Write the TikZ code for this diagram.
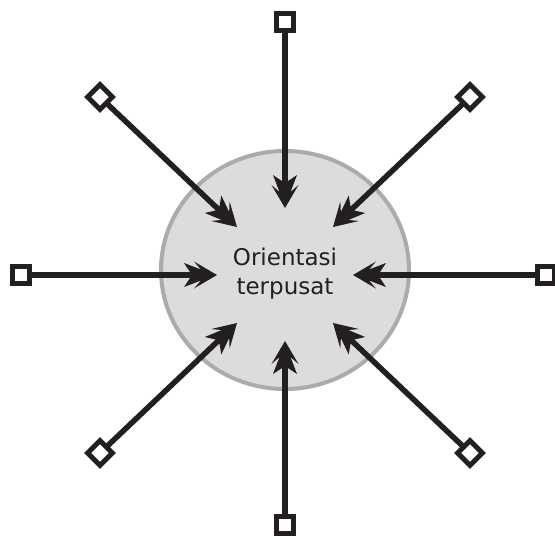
\documentclass[tikz,border=0pt]{standalone}
\usepackage{fontspec}
\newfontfamily\labelfont{DejaVu Sans}
\definecolor{ink}{HTML}{231F20}
\definecolor{discfill}{HTML}{DCDCDC}
\definecolor{discline}{HTML}{ABABAB}
\tikzset{
  barb/.pic={\fill[ink] (0,0) -- (-23,13.5) -- (-16,5.5) -- (-33,12) -- (-27,3)
     -- (-27,-3) -- (-33,-12) -- (-16,-5.5) -- (-23,-13.5) -- cycle;},
  sqbox/.style={draw=ink, fill=white, line width=5pt, minimum size=17.5pt, inner sep=0pt, outer sep=0pt},
  dmbox/.style={sqbox, rotate=45},
  spoke/.style={draw=ink, line width=5.5pt, shorten >=20pt},
  headmark/.style={pos=1, sloped, allow upside down},
}
\begin{document}
\begin{tikzpicture}[x=1pt, y=-1pt]
\useasboundingbox (0,0) rectangle (555,536);
\fill[white] (0,0) rectangle (555,536);
\draw[draw=discline, fill=discfill, line width=4pt] (285,270) ellipse [x radius=124, y radius=119];
\node[text=ink, align=center, font=\labelfont\fontsize{23}{29}\selectfont] (lbl) at (285,274) {Orientasi\\terpusat};

\coordinate (tT) at (285,208);
\coordinate (tB) at (285,341);
\coordinate (tL) at (217,275);
\coordinate (tR) at (353,275);
\coordinate (tTL) at (237,227);
\coordinate (tTR) at (333,227);
\coordinate (tBL) at (237,323);
\coordinate (tBR) at (333,323);

\node[sqbox] (sT) at (285,22) {};
\node[sqbox] (sB) at (285,525) {};
\node[sqbox] (sL) at (21,275) {};
\node[sqbox] (sR) at (546,275) {};
\node[dmbox] (dTL) at (100,97) {};
\node[dmbox] (dTR) at (470,97) {};
\node[dmbox] (dBL) at (100,453) {};
\node[dmbox] (dBR) at (470,453) {};

\draw[spoke] (sT) -- (tT) pic[headmark] {barb};
\draw[spoke] (sB) -- (tB) pic[headmark] {barb};
\draw[spoke] (sL) -- (tL) pic[headmark] {barb};
\draw[spoke] (sR) -- (tR) pic[headmark] {barb};
\draw[spoke] (dTL) -- (tTL) pic[headmark] {barb};
\draw[spoke] (dTR) -- (tTR) pic[headmark] {barb};
\draw[spoke] (dBL) -- (tBL) pic[headmark] {barb};
\draw[spoke] (dBR) -- (tBR) pic[headmark] {barb};
\end{tikzpicture}
\end{document}
